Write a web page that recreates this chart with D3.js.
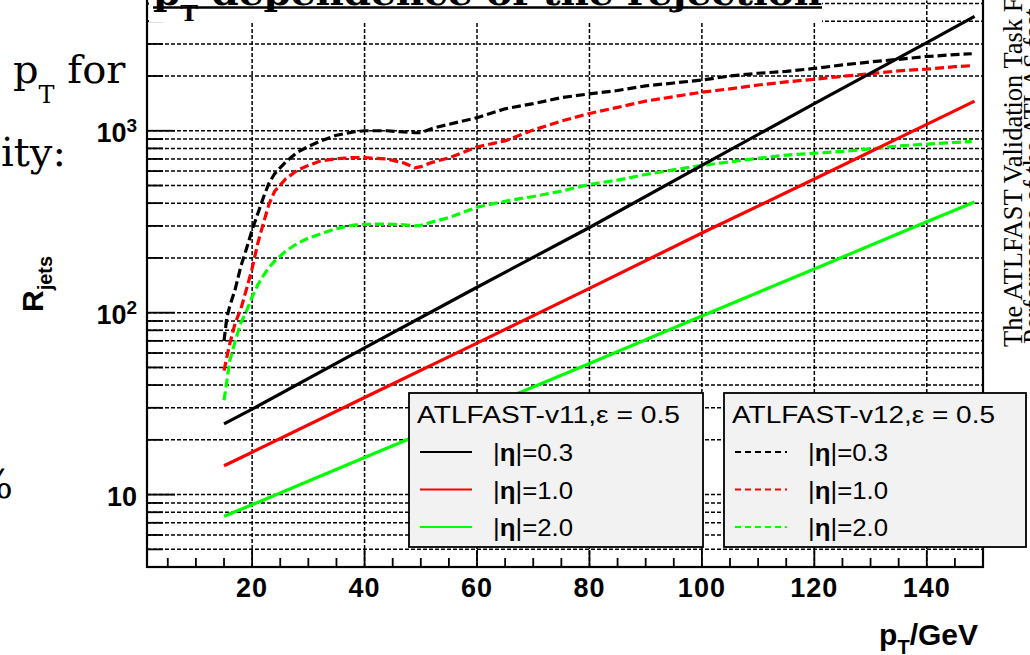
<!DOCTYPE html>
<html>
<head>
<meta charset="utf-8">
<script src="https://cdn.jsdelivr.net/npm/d3@7"></script>
<style>
  html, body { margin: 0; padding: 0; background: #fff; overflow: hidden; }
  svg { display: block; }
</style>
</head>
<body>
<div id="main-chart"></div>
<script>
// ATLFAST-v11 parametrisation (straight lines on the log scale)
const ptV11 = [15, 20, 40, 60, 80, 100, 120, 140, 148.5];
const v11Eta03 = [24.5, 29.5, 64, 138, 294, 645, 1410, 3050, 4250];
const v11Eta10 = [14.4, 17.1, 34.2, 68, 136, 274, 543, 1084, 1455];
const v11Eta20 = [7.6, 8.8, 16, 29, 52.6, 96, 174, 316, 406];

// ATLFAST-v12 curves
const ptV12 = [15, 15.5, 16, 17, 18, 19, 20, 21, 22, 23, 24, 26, 28, 30, 32, 35, 38, 40, 44, 47, 49, 50, 52, 55,
  60, 65, 70, 75, 80, 85, 90, 95, 100, 105, 110, 115, 120, 125, 130, 135, 140, 145, 148];
const v12Eta03 = [70, 94, 108, 135, 180, 225, 285, 350, 430, 515, 580, 675, 760, 820, 875, 945, 985, 1000, 1000, 985, 975, 975, 1030, 1085,
  1180, 1320, 1410, 1520, 1595, 1665, 1765, 1830, 1900, 2000, 2070, 2120, 2200, 2300, 2390, 2470, 2560, 2620, 2650];
const v12Eta10 = [48, 57, 67, 88, 105, 135, 175, 240, 310, 395, 465, 545, 605, 645, 680, 702, 713, 713, 699, 665, 625, 635, 670, 710,
  815, 880, 1010, 1130, 1245, 1345, 1455, 1540, 1630, 1700, 1785, 1855, 1920, 1990, 2060, 2135, 2180, 2250, 2280];
const v12Eta20 = [33, 42, 54, 70, 88, 102, 122, 142, 160, 177, 192, 218, 240, 257, 270, 290, 303, 306, 307, 304, 300, 302, 315, 333,
  380, 410, 435, 466, 507, 535, 575, 610, 645, 675, 705, 735, 752, 770, 795, 825, 845, 862, 875];

const etaLabels = ['0.3', '1.0', '2.0'];
const seriesColors = ['#000000', '#ff0000', '#00ff00'];
const legendHeaders = ['ATLFAST-v11,\u03b5 = 0.5', 'ATLFAST-v12,\u03b5 = 0.5'];
const xTickValues = [20, 40, 60, 80, 100, 120, 140];
const yTickValues = [10, 100, 1000];

const W = 1030, H = 655;
const plot = { left: 147, right: 983, top: 0.5, bottom: 567 };

const svg = d3.select('#main-chart')
  .append('svg')
  .attr('width', W)
  .attr('height', H)
  .style('font-family', '"Liberation Sans", Arial, sans-serif');

const x = d3.scaleLinear().domain([1.3, 150]).range([plot.left, plot.right]);
const y = d3.scaleLog().domain([4, 5200]).range([plot.bottom, plot.top]);

// background slide text, left side
const slide = svg.append('g')
  .style('font-family', '"DejaVu Serif", Georgia, serif')
  .attr('fill', '#000');
const pfor = slide.append('text').attr('x', 13).attr('y', 83).style('font-size', '40px');
pfor.append('tspan').text('p');
pfor.append('tspan').attr('dy', 20).style('font-size', '24px').text('T');
pfor.append('tspan').attr('dy', -20).text(' for');
slide.append('text').attr('x', 1).attr('y', 166).style('font-size', '40px').text('ity:');
slide.append('text').attr('x', 13).attr('y', 498).attr('text-anchor', 'end').style('font-size', '40px').text('%');

// rotated slide text, right side
const side = svg.append('g')
  .style('font-family', '"Liberation Serif", "Times New Roman", serif')
  .style('font-size', '26.5px');
side.append('text').attr('transform', 'translate(1022,347) rotate(-90)').text('The ATLFAST Validation Task Force');
side.append('text').attr('transform', 'translate(1042,344) rotate(-90)').text('Performance of the ATLAS fast simulation');

// grid
const grid = svg.append('g')
  .attr('stroke', '#000')
  .attr('stroke-width', 1.5)
  .attr('stroke-dasharray', '4,2');
grid.selectAll('.hgrid')
  .data(y.ticks().filter(d => d > 4))
  .enter()
  .append('line')
  .attr('class', 'hgrid')
  .attr('x1', plot.left).attr('x2', plot.right)
  .attr('y1', d => y(d)).attr('y2', d => y(d));
grid.selectAll('.vgrid')
  .data(xTickValues)
  .enter()
  .append('line')
  .attr('class', 'vgrid')
  .attr('x1', d => x(d)).attr('x2', d => x(d))
  .attr('y1', plot.bottom).attr('y2', plot.top);

// axis ticks (inside the frame)
const ticks = svg.append('g').attr('stroke', '#000').attr('stroke-width', 1.8);
ticks.selectAll('.xmin')
  .data(x.ticks(30))
  .enter()
  .append('line')
  .attr('x1', d => x(d)).attr('x2', d => x(d))
  .attr('y1', plot.bottom).attr('y2', d => plot.bottom - (d % 20 === 0 ? 17 : 9));
ticks.selectAll('.ymin')
  .data(y.ticks().filter(d => d > 4))
  .enter()
  .append('line')
  .attr('x1', plot.left)
  .attr('x2', d => plot.left + (yTickValues.includes(d) ? 28 : 16))
  .attr('y1', d => y(d)).attr('y2', d => y(d));

// curves
const line = d3.line()
  .x(d => x(d[0]))
  .y(d => y(d[1]));

const v11 = [v11Eta03, v11Eta10, v11Eta20];
const v12 = [v12Eta03, v12Eta10, v12Eta20];

svg.append('g').selectAll('path')
  .data(v12)
  .enter()
  .append('path')
  .attr('d', vals => line(d3.zip(ptV12, vals)))
  .attr('fill', 'none')
  .attr('stroke', (d, i) => seriesColors[i])
  .attr('stroke-width', 3.2)
  .attr('stroke-dasharray', '9,4');

svg.append('g').selectAll('path')
  .data(v11)
  .enter()
  .append('path')
  .attr('d', vals => line(d3.zip(ptV11, vals)))
  .attr('fill', 'none')
  .attr('stroke', (d, i) => seriesColors[i])
  .attr('stroke-width', 3.2);

// frame
svg.append('rect')
  .attr('x', plot.left).attr('y', plot.top - 10)
  .attr('width', plot.right - plot.left)
  .attr('height', plot.bottom - plot.top + 10)
  .attr('fill', 'none')
  .attr('stroke', '#000')
  .attr('stroke-width', 2.2);

// legends
const legendBoxes = [
  { x: 409, y: 393, w: 294, h: 154, dash: null },
  { x: 724, y: 393, w: 302, h: 154, dash: '6,4' }
];
legendBoxes.forEach((box, k) => {
  const g = svg.append('g').attr('transform', `translate(${box.x},${box.y})`);
  g.append('rect')
    .attr('width', box.w).attr('height', box.h)
    .attr('fill', '#f2f2f2')
    .attr('stroke', '#000')
    .attr('stroke-width', 1.8);
  g.append('text')
    .attr('x', 8).attr('y', 30)
    .attr('textLength', 263)
    .attr('lengthAdjust', 'spacingAndGlyphs')
    .style('font-size', '23px')
    .text(legendHeaders[k]);
  etaLabels.forEach((lab, i) => {
    const cy = 59 + i * 37.5;
    g.append('line')
      .attr('x1', 11).attr('x2', 63)
      .attr('y1', cy).attr('y2', cy)
      .attr('stroke', seriesColors[i])
      .attr('stroke-width', 2)
      .attr('stroke-dasharray', box.dash);
    const t = g.append('text')
      .attr('x', 84).attr('y', cy + 9)
      .attr('textLength', 80)
      .attr('lengthAdjust', 'spacingAndGlyphs')
      .style('font-size', '23px');
    t.append('tspan').text('|');
    t.append('tspan').style('font-weight', 'bold').text('\u03b7');
    t.append('tspan').text('|=' + lab);
  });
});

// tick labels
svg.append('g').selectAll('text')
  .data(xTickValues)
  .enter()
  .append('text')
  .attr('x', d => x(d))
  .attr('y', 597)
  .attr('text-anchor', 'middle')
  .style('font-size', '27px')
  .style('font-weight', 'bold')
  .style('letter-spacing', '1px')
  .text(d => d);

svg.append('g').selectAll('text')
  .data(yTickValues)
  .enter()
  .append('text')
  .attr('x', 137)
  .attr('y', d => y(d) + 11)
  .attr('text-anchor', 'end')
  .style('font-size', '27px')
  .style('font-weight', 'bold')
  .each(function (d) {
    const e = Math.round(Math.log10(d));
    const t = d3.select(this);
    t.append('tspan').text('10');
    if (e > 1) t.append('tspan').attr('dy', -10).style('font-size', '19px').text(e);
  });

// axis titles
const yl = svg.append('text')
  .attr('transform', 'translate(43,312) rotate(-90)')
  .style('font-size', '30px')
  .style('font-weight', 'bold');
yl.append('tspan').text('R');
yl.append('tspan').attr('dy', 9).style('font-size', '20px').text('jets');

const xl = svg.append('text')
  .attr('x', 978).attr('y', 645)
  .attr('text-anchor', 'end')
  .style('font-size', '30px')
  .style('font-weight', 'bold');
xl.append('tspan').text('p');
xl.append('tspan').attr('dy', 9).style('font-size', '20px').text('T');
xl.append('tspan').attr('dy', -9).text('/GeV');

// slide title over the plot top
svg.append('rect')
  .attr('x', 149).attr('y', 0)
  .attr('width', 673).attr('height', 22)
  .attr('fill', '#fff');
const title = svg.append('text')
  .attr('x', 153).attr('y', 5)
  .attr('textLength', 669)
  .attr('lengthAdjust', 'spacingAndGlyphs')
  .style('font-family', '"DejaVu Serif", Georgia, serif')
  .style('font-weight', 'bold')
  .style('font-size', '36px');
title.append('tspan').text('p');
title.append('tspan').attr('dy', 16).style('font-size', '22px').text('T');
title.append('tspan').attr('dy', -16).text(' dependence of the rejection');
svg.append('line')
  .attr('x1', 153).attr('x2', 822)
  .attr('y1', 7.5).attr('y2', 7.5)
  .attr('stroke', '#000')
  .attr('stroke-width', 2.5);
</script>
</body>
</html>
